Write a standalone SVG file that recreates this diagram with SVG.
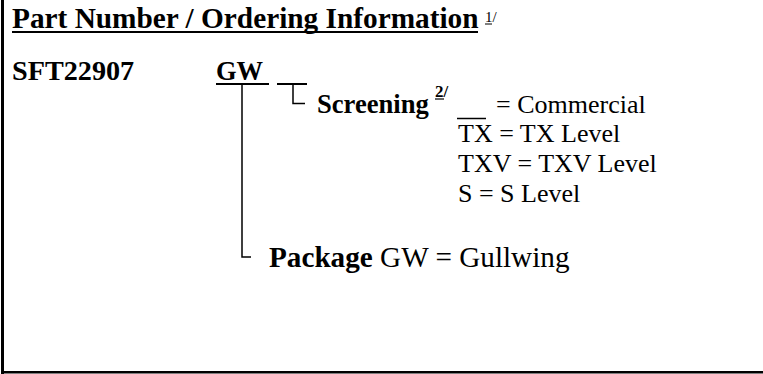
<svg xmlns="http://www.w3.org/2000/svg" width="763" height="374" viewBox="0 0 763 374">
<style>
.b{font-family:"Liberation Serif","Times New Roman",serif;font-weight:bold;fill:#000}
.r{font-family:"Liberation Serif","Times New Roman",serif;fill:#000}
.ln{stroke:#000;fill:none}
</style>
<rect x="0" y="0" width="763" height="374" fill="#fff"/>
<g id="frame">
<rect x="1" y="0" width="3" height="374" fill="#000"/>
<rect x="1" y="371" width="762" height="2.5" fill="#000"/>
</g>
<g id="title">
<text class="b" x="12" y="28" font-size="29.3">Part Number / Ordering Information</text>
<line class="ln" x1="12" y1="32" x2="478" y2="32" stroke-width="2"/>
<text class="r" x="485" y="22" font-size="15">1/</text>
<line class="ln" x1="485" y1="24" x2="492" y2="24" stroke-width="1"/>
</g>
<g id="part">
<text class="b" x="12" y="80" font-size="28.2">SFT22907</text>
</g>
<g id="gw">
<text class="b" x="216" y="80" font-size="26.5">GW</text>
<line class="ln" x1="216" y1="84" x2="269" y2="84" stroke-width="2"/>
</g>
<g id="screening-slot">
<line class="ln" x1="277" y1="84" x2="307" y2="84" stroke-width="2"/>
</g>
<g id="connectors">
<polyline class="ln" points="293,85 293,103.5 305,103.5" stroke-width="1.5"/>
<polyline class="ln" points="242,85 242,257 251,257" stroke-width="1.5"/>
</g>
<g id="screening">
<text class="b" x="317" y="113" font-size="26.6">Screening</text>
<text class="b" x="435" y="97" font-size="17">2/</text>
<line class="ln" x1="435" y1="99" x2="444" y2="99" stroke-width="1.2"/>
<line class="ln" x1="457" y1="118.5" x2="486" y2="118.5" stroke-width="1.5"/>
<text class="r" x="496" y="113" font-size="26">= Commercial</text>
<text class="r" x="458" y="142" font-size="26">TX = TX Level</text>
<text class="r" x="458" y="172" font-size="26">TXV = TXV Level</text>
<text class="r" x="458" y="202" font-size="26">S = S Level</text>
</g>
<g id="package">
<text x="269" y="267" font-size="29.2"><tspan class="b">Package</tspan><tspan class="r"> GW = Gullwing</tspan></text>
</g>
</svg>
